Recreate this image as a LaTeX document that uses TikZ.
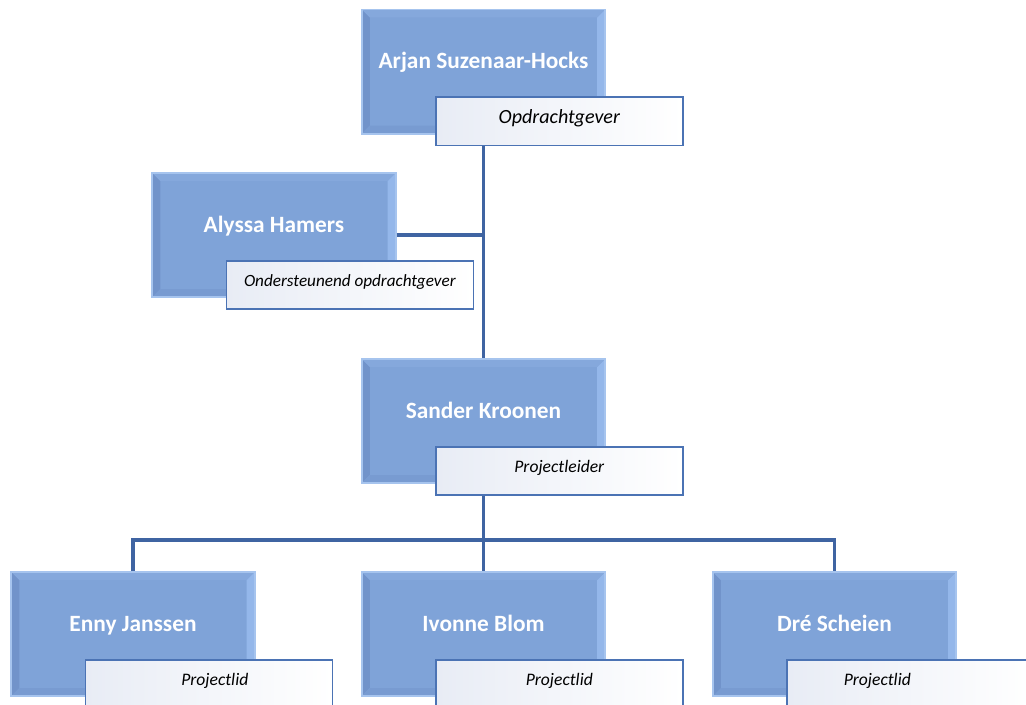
\documentclass[tikz,border=0pt]{standalone}
\usepackage{fontspec}
\setmainfont{Carlito}
\usetikzlibrary{positioning}

\definecolor{boxfill}{HTML}{7FA3D8}
\definecolor{boxedge}{HTML}{A6C4EE}
\definecolor{bevdark}{HTML}{7193CA}
\definecolor{bevlight}{HTML}{94B7EA}
\definecolor{bevtop}{HTML}{85A8DC}
\definecolor{linkblue}{HTML}{3F64A2}
\definecolor{roleedge}{HTML}{4B73B4}
\definecolor{roleleft}{HTML}{E8ECF5}

\begin{document}
\begin{tikzpicture}[
        % 1 unit = 1 pixel of the original chart
        x=0.025cm,
        y=-0.025cm,
        person/.style={
            draw=boxedge, line width=1.4pt, fill=boxfill,
            minimum width=6.075cm, minimum height=3.1cm,
            text=white, font=\bfseries\fontsize{16.6}{19}\selectfont,
            text height=0.42cm, text depth=0.56cm,
            path picture={
                % bevelled edges of the box
                \def\pb{path picture bounding box}
                \fill[bevdark] (\pb.north west) -- (\pb.south west)
                    -- ([xshift=0.2cm,yshift=0.2cm]\pb.south west)
                    -- ([xshift=0.2cm,yshift=-0.2cm]\pb.north west) -- cycle;
                \fill[bevlight] (\pb.north east) -- (\pb.south east)
                    -- ([xshift=-0.2cm,yshift=0.2cm]\pb.south east)
                    -- ([xshift=-0.2cm,yshift=-0.2cm]\pb.north east) -- cycle;
                \fill[bevtop] (\pb.north west) -- (\pb.north east)
                    -- ([xshift=-0.2cm,yshift=-0.2cm]\pb.north east)
                    -- ([xshift=0.2cm,yshift=-0.2cm]\pb.north west) -- cycle;
                \fill[bevdark!50!boxfill] (\pb.south west) -- (\pb.south east)
                    -- ([xshift=-0.2cm,yshift=0.2cm]\pb.south east)
                    -- ([xshift=0.2cm,yshift=0.2cm]\pb.south west) -- cycle;
            }
        },
        role/.style={
            draw=roleedge, line width=1.1pt, left color=roleleft, right color=white,
            minimum width=6.175cm, minimum height=1.2cm, anchor=north west,
            text height=0.3cm, text depth=0.2cm, font=\itshape\fontsize{12.5}{15}\selectfont
        },
        link/.style={draw=linkblue, line width=2.2pt}
    ]
    \clip (0,0) rectangle (1026,704);

    % --- personen ---
    \node[person] (arjan)  at (483.5,71.5) {Arjan Suzenaar-Hocks};
    \node[person] (alyssa) at (274,235)    {Alyssa Hamers};
    \node[person] (sander) at (483.5,421)  {Sander Kroonen};
    \node[person] (enny)   at (133,634)    {Enny Janssen};
    \node[person] (ivonne) at (483.5,634)  {Ivonne Blom};
    \node[person] (dre)    at (834.5,634)  {Dré Scheien};

    % --- rollen ---
    \node[role, font=\itshape\fontsize{14.3}{17}\selectfont] (arjanR)
        at ([xshift=1.85cm,yshift=0.95cm]arjan.south west) {Opdrachtgever};
    \node[role, font=\itshape\fontsize{12.2}{14}\selectfont] (alyssaR)
        at ([xshift=1.85cm,yshift=0.95cm]alyssa.south west) {Ondersteunend opdrachtgever};
    \node[role] (sanderR) at ([xshift=1.85cm,yshift=0.95cm]sander.south west) {Projectleider};
    \node[role] (ennyR)   at ([xshift=1.85cm,yshift=0.95cm]enny.south west)   {\hspace*{0.3cm}Projectlid};
    \node[role] (ivonneR) at ([xshift=1.85cm,yshift=0.95cm]ivonne.south west) {Projectlid};
    \node[role] (dreR)    at ([xshift=1.85cm,yshift=0.95cm]dre.south west)    {\hspace*{-1.65cm}Projectlid};

    % --- verbindingen ---
    \coordinate (bus) at (483.5,540);
    \draw[link] (arjanR.south -| arjan.south) -- (sander.north);
    \draw[link] (alyssa.east) -- (alyssa.east -| sander.north);
    \draw[link] (sanderR.south -| sander.south) -- (ivonne.north);
    \draw[link] (enny.north) |- (bus) -| (dre.north);

\end{tikzpicture}
\end{document}
